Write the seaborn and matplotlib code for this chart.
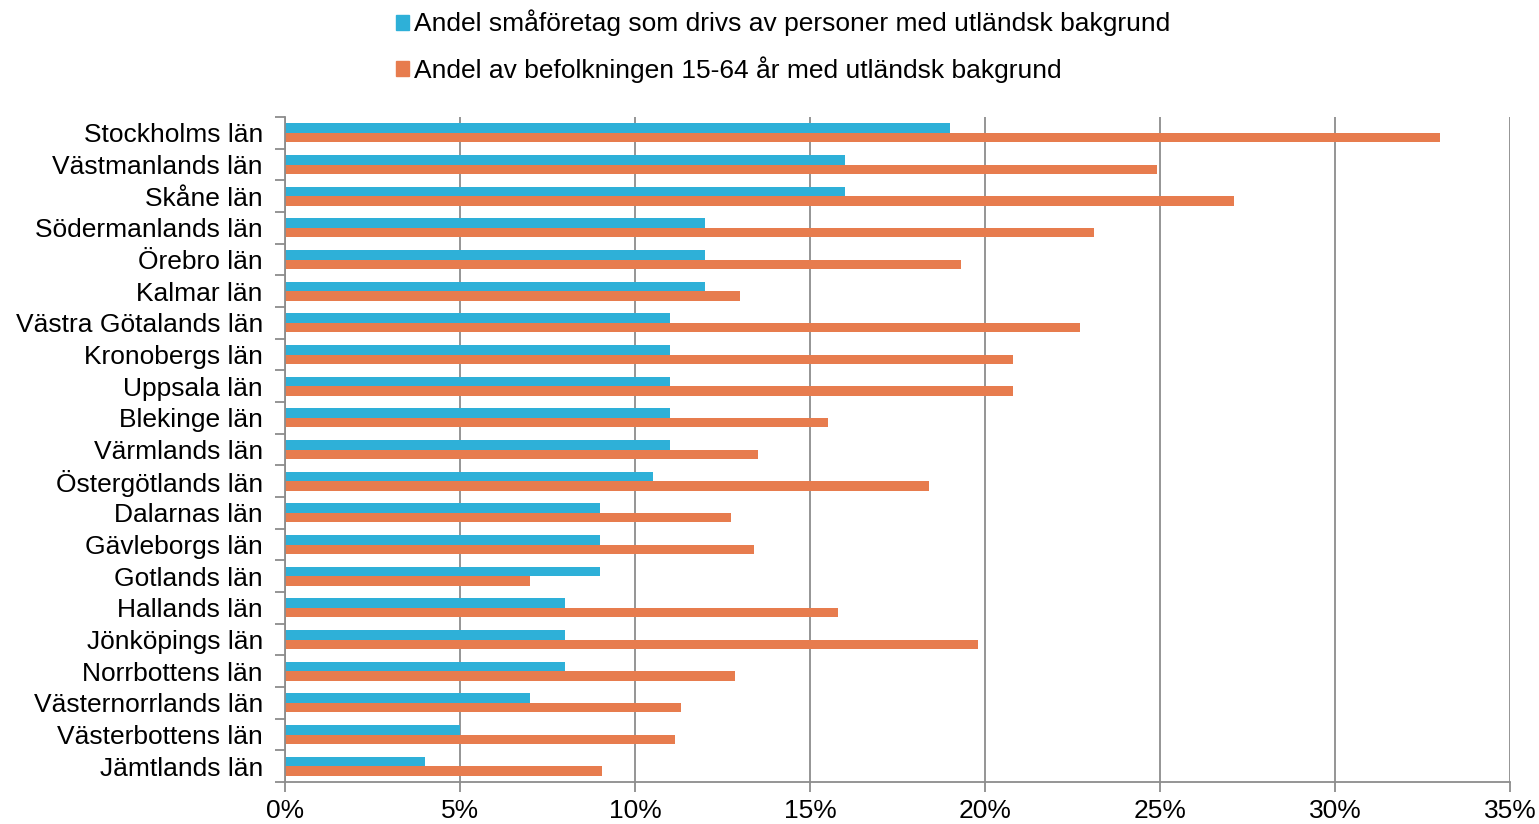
import pandas as pd
import matplotlib.pyplot as plt
import matplotlib.patches as mpatches
import seaborn as sns
from matplotlib.ticker import FixedLocator, PercentFormatter

lan = ["Stockholms län", "Västmanlands län", "Skåne län", "Södermanlands län",
       "Örebro län", "Kalmar län", "Västra Götalands län", "Kronobergs län",
       "Uppsala län", "Blekinge län", "Värmlands län", "Östergötlands län",
       "Dalarnas län", "Gävleborgs län", "Gotlands län", "Hallands län",
       "Jönköpings län", "Norrbottens län", "Västernorrlands län",
       "Västerbottens län", "Jämtlands län"]
smaforetag = [19, 16, 16, 12, 12, 12, 11, 11, 11, 11, 11, 10.5,
              9, 9, 9, 8, 8, 8, 7, 5, 4]
befolkning = [33.0, 24.9, 27.1, 23.1, 19.3, 13.0, 22.7, 20.8, 20.8, 15.5, 13.5, 18.4,
              12.75, 13.4, 7.0, 15.8, 19.8, 12.85, 11.3, 11.15, 9.05]
serie_namn = ["Andel småföretag som drivs av personer med utländsk bakgrund",
              "Andel av befolkningen 15-64 år med utländsk bakgrund"]
farger = ["#2EB0D8", "#E77C4E"]

df = pd.concat([
    pd.DataFrame({"lan": lan, "varde": smaforetag, "serie": serie_namn[0]}),
    pd.DataFrame({"lan": lan, "varde": befolkning, "serie": serie_namn[1]}),
])

sns.set_style("white")
plt.rcParams['font.family'] = ['Liberation Sans', 'DejaVu Sans']
plt.rcParams['text.color'] = 'black'
plt.rcParams['xtick.labelcolor'] = 'black'
plt.rcParams['ytick.labelcolor'] = 'black'

fig = plt.figure(figsize=(15.39, 8.24), dpi=100)
ax = fig.add_axes([285 / 1539, 1 - 782 / 824, 1225 / 1539, 665 / 824])

sns.barplot(data=df, y="lan", x="varde", hue="serie", palette=farger,
            saturation=1, orient="h", width=0.6, gap=0, dodge=True,
            legend=False, edgecolor="none", ax=ax)

ax.set_xlim(0, 35)
ax.set_ylim(len(lan) - 0.5, -0.5)
ax.set_xticks(range(0, 36, 5))
ax.xaxis.set_major_formatter(PercentFormatter(decimals=0))
ax.grid(axis="x", color="#8C8C8C", linewidth=1.3)
ax.set_axisbelow(True)
ax.set_xlabel("")
ax.set_ylabel("")

ax.tick_params(axis="y", which="major", length=0, labelsize=19, pad=16)
ax.yaxis.set_minor_locator(FixedLocator([i - 0.5 for i in range(len(lan) + 1)]))
ax.tick_params(axis="y", which="minor", left=True, length=7,
               color="#8C8C8C", width=1.3)
ax.tick_params(axis="x", bottom=True, length=7, color="#8C8C8C", width=1.3,
               labelsize=19, pad=5)

for side in ["top", "right"]:
    ax.spines[side].set_visible(False)
for side in ["left", "bottom"]:
    ax.spines[side].set_color("#8C8C8C")
    ax.spines[side].set_linewidth(1.3)

handles = [mpatches.Patch(color=c, label=n) for c, n in zip(farger, serie_namn)]
fig.legend(handles=handles, loc="upper left", bbox_to_anchor=(372 / 1539, 1.017),
           frameon=False, fontsize=19, handlelength=0.5, handleheight=0.5,
           handletextpad=0.2, labelspacing=0.75)

fig.savefig("out.png", dpi=100)
